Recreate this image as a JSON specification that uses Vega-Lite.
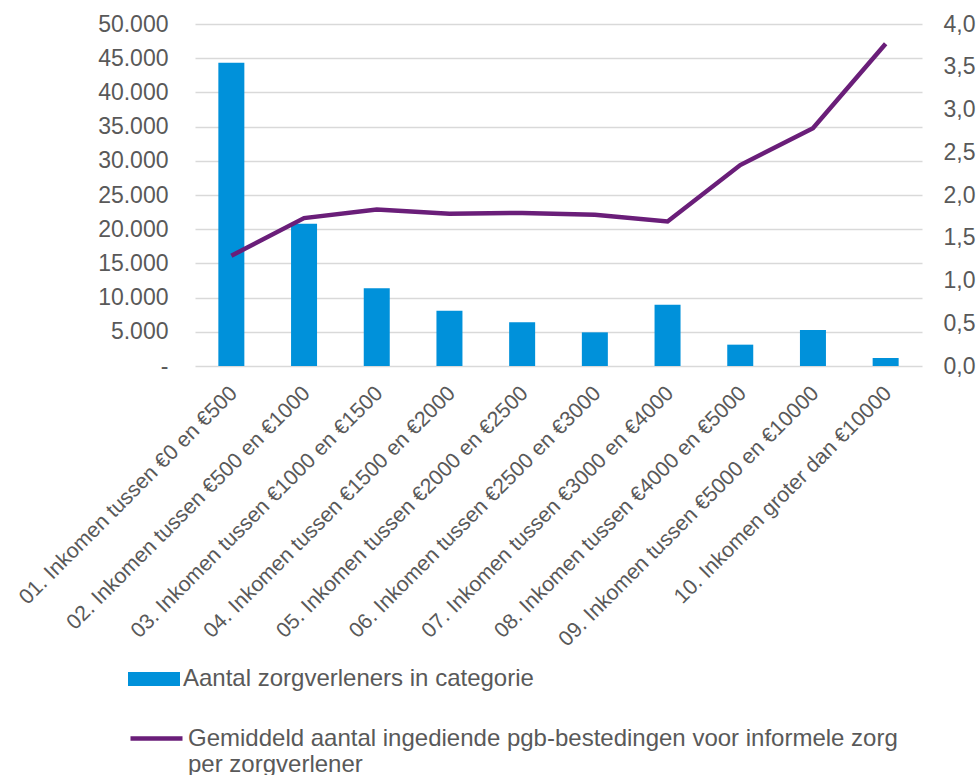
{
  "$schema": "https://vega.github.io/schema/vega-lite/v6.json",
  "width": 727,
  "height": 342,
  "autosize": "none",
  "padding": {"left": 195, "top": 24, "right": 58, "bottom": 409},
  "background": "white",
  "config": {
    "locale": {"number": {"decimal": ",", "thousands": ".", "grouping": [3], "currency": ["€", ""]}},
    "font": "Liberation Sans",
    "view": {"stroke": null},
    "axis": {"labelFont": "Liberation Sans", "labelColor": "#595959", "labelFontSize": 23, "domain": false, "ticks": false, "title": null},
    "legend": {"labelFont": "Liberation Sans", "labelColor": "#595959", "labelFontSize": 24, "padding": 0, "labelLimit": 900}
  },
  "data": {
    "values": [
      {"cat": "01. Inkomen tussen €0 en €500", "aantal": 44330, "gem": 1.29},
      {"cat": "02. Inkomen tussen €500 en €1000", "aantal": 20800, "gem": 1.73},
      {"cat": "03. Inkomen tussen €1000 en €1500", "aantal": 11370, "gem": 1.83},
      {"cat": "04. Inkomen tussen €1500 en €2000", "aantal": 8060, "gem": 1.78},
      {"cat": "05. Inkomen tussen €2000 en €2500", "aantal": 6390, "gem": 1.79},
      {"cat": "06. Inkomen tussen €2500 en €3000", "aantal": 4920, "gem": 1.77},
      {"cat": "07. Inkomen tussen €3000 en €4000", "aantal": 8940, "gem": 1.69},
      {"cat": "08. Inkomen tussen €4000 en €5000", "aantal": 3120, "gem": 2.35},
      {"cat": "09. Inkomen tussen €5000 en €10000", "aantal": 5270, "gem": 2.78},
      {"cat": "10. Inkomen groter dan €10000", "aantal": 1170, "gem": 3.77}
    ]
  },
  "encoding": {
    "x": {"field": "cat", "type": "nominal", "sort": null, "axis": {"labelAngle": -45, "labelLimit": 500, "labelPadding": 16, "labelOffset": -5, "labelFontSize": 21.3, "grid": false}}
  },
  "layer": [
    {
      "mark": {"type": "bar", "size": 26},
      "encoding": {
        "y": {"field": "aantal", "type": "quantitative", "scale": {"domain": [0, 50000]},
          "axis": {"values": [0, 5000, 10000, 15000, 20000, 25000, 30000, 35000, 40000, 45000, 50000], "format": ",.0f", "labelExpr": "datum.value === 0 ? '-' : datum.label", "grid": true, "gridColor": "#d9d9d9", "gridWidth": 1.5, "labelPadding": 27}},
        "fill": {"datum": "Aantal zorgverleners in categorie", "scale": {"range": ["#0091DA"]},
          "legend": {"title": null, "orient": "none", "legendX": -67, "legendY": 629, "symbolType": "M-1,-0.27H1V0.27H-1Z", "symbolSize": 2704, "symbolStrokeWidth": 0, "symbolOpacity": 1, "labelOffset": 3}}
      }
    },
    {
      "mark": {"type": "line", "strokeWidth": 4.5},
      "encoding": {
        "y": {"field": "gem", "type": "quantitative", "scale": {"domain": [0, 4]},
          "axis": {"orient": "right", "values": [0, 0.5, 1, 1.5, 2, 2.5, 3, 3.5, 4], "format": ".1f", "grid": false, "labelPadding": 21}},
        "stroke": {"datum": "Gemiddeld aantal ingediende pgb-bestedingen voor informele zorg per zorgverlener", "scale": {"range": ["#6A1E79"]},
          "legend": {"title": null, "orient": "none", "legendX": -67, "legendY": 686, "symbolType": "stroke", "symbolSize": 2704, "symbolStrokeWidth": 4.5, "labelOffset": 3,
            "labelExpr": "['Gemiddeld aantal ingediende pgb-bestedingen voor informele zorg', 'per zorgverlener']"}}
      }
    }
  ],
  "resolve": {"scale": {"y": "independent"}}
}
